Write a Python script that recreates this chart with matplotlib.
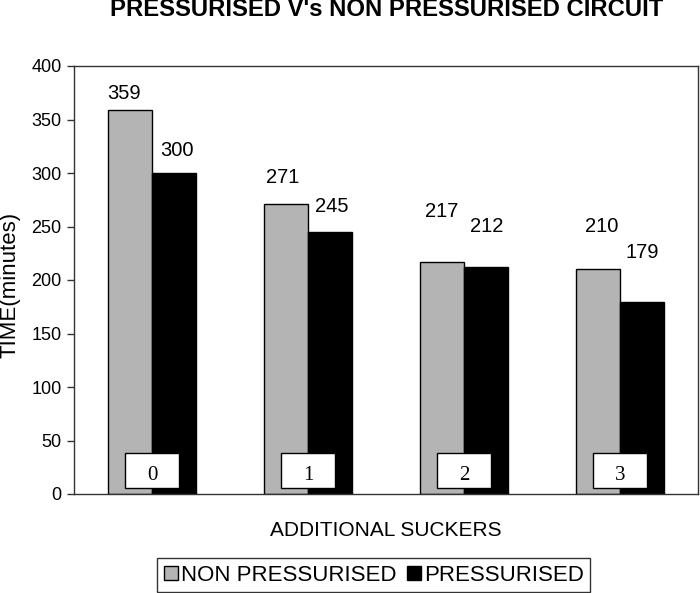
import numpy as np
import matplotlib
matplotlib.use("Agg")
import matplotlib.pyplot as plt
from matplotlib.patches import Patch, Rectangle

plt.rcParams['font.family'] = ['Liberation Sans', 'DejaVu Sans']

# data
categories = ['0', '1', '2', '3']
non_pressurised = [359, 271, 217, 210]
pressurised = [300, 245, 212, 179]

# value label offsets above bar top (points), as placed in the original
gray_label_dy = [12, 19, 36, 31]
black_label_dy = [16, 18, 29, 36]
gray_label_dx = [-4, -2, 0, 3]
black_label_dx = [2, 1, 0, 0]

gray = '#b4b4b4'
bar_w = 0.285

fig = plt.figure(figsize=(7.0, 5.93), dpi=100)
ax = fig.add_axes([74/700, 99/593, 624/700, 428/593])

x = np.arange(len(categories))
ax.bar(x - bar_w/2, non_pressurised, bar_w, color=gray, edgecolor='black', linewidth=1)
ax.bar(x + bar_w/2, pressurised, bar_w, color='black', edgecolor='black', linewidth=1)

for i in range(len(categories)):
    ax.annotate(str(non_pressurised[i]), (x[i] - bar_w/2, non_pressurised[i]),
                xytext=(gray_label_dx[i], gray_label_dy[i]), textcoords='offset points',
                ha='center', va='center', fontsize=14.5)
    ax.annotate(str(pressurised[i]), (x[i] + bar_w/2, pressurised[i]),
                xytext=(black_label_dx[i], black_label_dy[i]), textcoords='offset points',
                ha='center', va='center', fontsize=14.5)
    # category label boxes sitting on the bars
    ax.add_patch(Rectangle((x[i] - 0.17, 5.6), 0.34, 32.8, facecolor='white',
                           edgecolor='black', linewidth=1, zorder=3))
    ax.text(x[i], 17.5, categories[i], ha='center', va='center', fontsize=15,
            family='Liberation Serif', zorder=4)

ax.set_xlim(-0.5, 3.5)
ax.set_ylim(0, 400)
ax.set_yticks(range(0, 401, 50))
ax.set_xticks([])
ax.tick_params(axis='y', length=5, width=1, labelsize=13, pad=4, color='#333333')
for s in ax.spines.values():
    s.set_color('#333333')
    s.set_linewidth(1)

fig.text(387/700, 1 - 10/593, "PRESSURISED V's NON PRESSURISED CIRCUIT",
         ha='center', va='center', fontsize=17.2, fontweight='bold')
fig.text(10/700, 1 - 285/593, 'TIME(minutes)', rotation=90,
         ha='center', va='center', fontsize=16)
fig.text(386/700, 1 - 530/593, 'ADDITIONAL SUCKERS',
         ha='center', va='center', fontsize=15)

handles = [Patch(facecolor=gray, edgecolor='black', label='NON PRESSURISED'),
           Patch(facecolor='black', edgecolor='black', label='PRESSURISED')]
leg = fig.legend(handles=handles, loc='upper left', bbox_to_anchor=(157/700, 1 - 558/593),
                 ncol=2, fontsize=16, frameon=True, fancybox=False, edgecolor='black',
                 handlelength=0.63, handleheight=0.63, handletextpad=0.15,
                 columnspacing=0.45, borderpad=0.3, borderaxespad=0)
leg.get_frame().set_linewidth(1)

fig.savefig('out.png', dpi=100)
